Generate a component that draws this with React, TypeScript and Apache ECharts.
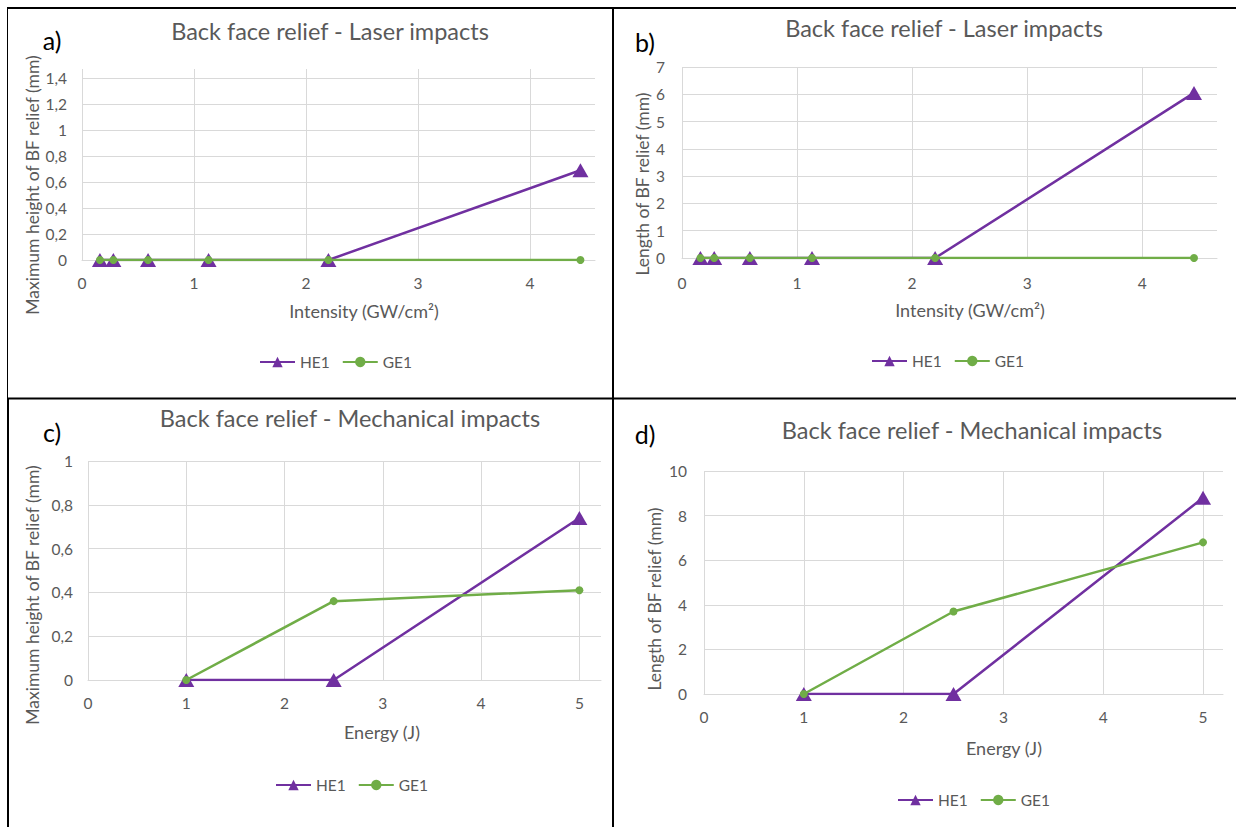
import React, { useEffect, useRef } from "react";
import * as echarts from "echarts";

// ---- data ----
const laserIntensity = [0.16, 0.28, 0.59, 1.13, 2.2, 4.45];
const heightHE1Laser = [0, 0, 0, 0, 0, 0.69];
const heightGE1Laser = [0, 0, 0, 0, 0, 0];
const lengthHE1Laser = [0, 0, 0, 0, 0, 6.05];
const lengthGE1Laser = [0, 0, 0, 0, 0, 0];

const mechEnergy = [1, 2.5, 5];
const heightHE1Mech = [0, 0, 0.74];
const heightGE1Mech = [0, 0.36, 0.41];
const lengthHE1Mech = [0, 0, 8.8];
const lengthGE1Mech = [0, 3.7, 6.8];

const seriesNames = ["HE1", "GE1"];
const panelLetters = ["a)", "b)", "c)", "d)"];
const panelTitles = [
  "Back face relief - Laser impacts",
  "Back face relief - Laser impacts",
  "Back face relief - Mechanical impacts",
  "Back face relief - Mechanical impacts",
];
const xNames = ["Intensity (GW/cm²)", "Intensity (GW/cm²)", "Energy (J)", "Energy (J)"];
const yNames = [
  "Maximum height of BF relief (mm)",
  "Length of BF relief (mm)",
  "Maximum height of BF relief (mm)",
  "Length of BF relief (mm)",
];

const FONT = "Lato, 'Open Sans', sans-serif";
const TEXT = "#595959";
const GRIDC = "#d9d9d9";
const PURPLE = "#7030A0";
const GREEN = "#70AD47";

const zip = (xs: number[], ys: number[]) => xs.map((x, i) => [x, ys[i]]);

const fmt = (interval: number) => (v: number) => {
  const k = v / interval;
  if (Math.abs(k - Math.round(k)) > 1e-6) return "";
  return String(+v.toFixed(2)).replace(".", ",");
};

export default function App() {
  const ref = useRef<HTMLDivElement>(null);
  useEffect(() => {
    if (!ref.current) return;
    const chart = echarts.init(ref.current, undefined, { renderer: "svg" });

    const grids = [
      { left: 82, top: 69, width: 513, height: 191 },
      { left: 682, top: 67, width: 535, height: 191 },
      { left: 88, top: 461, width: 513, height: 219 },
      { left: 704, top: 471, width: 519, height: 223 },
    ];
    const xMax = [4.58, 4.65, 5.22, 5.2];
    const xMargin = [15, 17, 15, 15];
    const yMax = [1.469, 7, 1, 10];
    const yInt = [0.2, 1, 0.2, 2];
    const yMargin = [15, 17, 15, 17];
    const yShowMax = [false, true, true, true];

    const xAxis = grids.map((_, i) => ({
      type: "value",
      gridIndex: i,
      min: 0,
      max: xMax[i],
      interval: 1,
      axisLine: { show: true, lineStyle: { color: GRIDC, width: 1 } },
      axisTick: { show: false },
      axisLabel: {
        color: TEXT,
        fontSize: 15.5,
        fontFamily: FONT,
        margin: xMargin[i],
        formatter: fmt(1),
      },
      splitLine: { show: true, showMaxLine: false, lineStyle: { color: GRIDC, width: 1 } },
    }));

    const yAxis = grids.map((_, i) => ({
      type: "value",
      gridIndex: i,
      min: 0,
      max: yMax[i],
      interval: yInt[i],
      axisLine: { show: false },
      axisTick: { show: false },
      axisLabel: {
        color: TEXT,
        fontSize: 15.5,
        fontFamily: FONT,
        margin: yMargin[i],
        formatter: fmt(yInt[i]),
      },
      splitLine: { show: true, showMaxLine: yShowMax[i], lineStyle: { color: GRIDC, width: 1 } },
    }));

    const panelData = [
      [zip(laserIntensity, heightHE1Laser), zip(laserIntensity, heightGE1Laser)],
      [zip(laserIntensity, lengthHE1Laser), zip(laserIntensity, lengthGE1Laser)],
      [zip(mechEnergy, heightHE1Mech), zip(mechEnergy, heightGE1Mech)],
      [zip(mechEnergy, lengthHE1Mech), zip(mechEnergy, lengthGE1Mech)],
    ];

    const series: any[] = [];
    panelData.forEach((pair, i) => {
      series.push({
        name: seriesNames[0],
        type: "line",
        xAxisIndex: i,
        yAxisIndex: i,
        data: pair[0],
        symbol: "triangle",
        symbolSize: [16, 14],
        lineStyle: { color: PURPLE, width: 2.5 },
        itemStyle: { color: PURPLE },
        z: 2,
      });
      series.push({
        name: seriesNames[1],
        type: "line",
        xAxisIndex: i,
        yAxisIndex: i,
        data: pair[1],
        symbol: "circle",
        symbolSize: 8,
        lineStyle: { color: GREEN, width: 2.5 },
        itemStyle: { color: GREEN },
        z: 3,
      });
    });

    const legendPos = [
      { left: 259, top: 354 },
      { left: 871, top: 353 },
      { left: 275, top: 777 },
      { left: 897, top: 792 },
    ];
    const legend = legendPos.map((p) => ({
      ...p,
      padding: 0,
      data: seriesNames,
      itemWidth: 35,
      itemHeight: 13,
      itemGap: 12,
      textStyle: { color: TEXT, fontSize: 15.5, fontFamily: FONT },
      selectedMode: false,
    }));

    const titlePos = [
      [330, 31],
      [944, 28],
      [350, 418],
      [972, 430],
    ];
    const letterPos = [
      [52, 40],
      [645, 42],
      [52, 432],
      [645, 434],
    ];
    const xNamePos = [
      [364, 311],
      [970, 310],
      [382, 732],
      [1004, 748],
    ];
    const yNamePos = [
      [32, 185],
      [642, 184],
      [32, 595],
      [654, 599],
    ];

    const mkText = (x: number, y: number, text: string, size: number, fill: string, rot = 0) => ({
      type: "text",
      x,
      y,
      rotation: rot,
      style: {
        text,
        fill,
        font: `${size}px ${FONT}`,
        align: "center",
        verticalAlign: "middle",
        textAlign: "center",
        textVerticalAlign: "middle",
      },
    });

    const texts: any[] = [];
    for (let i = 0; i < 4; i++) {
      texts.push(mkText(titlePos[i][0], titlePos[i][1], panelTitles[i], 23.5, TEXT));
      texts.push(mkText(letterPos[i][0], letterPos[i][1], panelLetters[i], 25, "#000"));
      texts.push(mkText(xNamePos[i][0], xNamePos[i][1], xNames[i], 18, TEXT));
      texts.push(mkText(yNamePos[i][0], yNamePos[i][1], yNames[i], 17.5, TEXT, Math.PI / 2));
    }

    const borders = [
      { x1: 7, y1: 8, x2: 1236, y2: 8, w: 2 },
      { x1: 7.5, y1: 7, x2: 7.5, y2: 398, w: 1 },
      { x1: 8, y1: 398, x2: 8, y2: 827, w: 2 },
      { x1: 7, y1: 398.5, x2: 1236, y2: 398.5, w: 2 },
      { x1: 613, y1: 7, x2: 613, y2: 827, w: 2 },
    ].map((b) => ({
      type: "line",
      shape: { x1: b.x1, y1: b.y1, x2: b.x2, y2: b.y2 },
      style: { stroke: "#000", lineWidth: b.w },
      z: 10,
    }));

    chart.setOption({
      animation: false,
      backgroundColor: "#ffffff",
      textStyle: { fontFamily: FONT },
      grid: grids.map((g) => ({ ...g, containLabel: false })),
      xAxis,
      yAxis,
      legend,
      series,
      graphic: [...borders, ...texts],
    });

    return () => chart.dispose();
  }, []);

  return (
    <div
      ref={ref}
      style={{ position: "fixed", left: 0, top: 0, width: 1236, height: 827, background: "#fff" }}
    />
  );
}
